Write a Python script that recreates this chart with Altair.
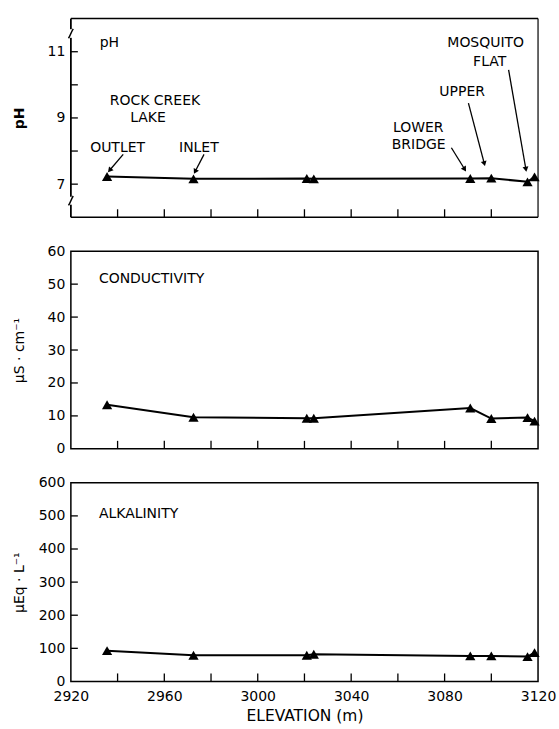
import math
import altair as alt
import pandas as pd

# ---------------- data ----------------
elev = [2935.5, 2972.5, 3021, 3024, 3091, 3100, 3115.5, 3118.5]
ph = [7.23, 7.16, 7.17, 7.16, 7.17, 7.18, 7.07, 7.22]
cond = [13.4, 9.6, 9.3, 9.3, 12.4, 9.2, 9.5, 8.4]
alk = [93, 79, 79, 82, 77, 77, 75, 87]

x_labels = [2920, 2960, 3000, 3040, 3080, 3120]
x_minor = [2940, 2960, 2980, 3000, 3020, 3040, 3060, 3080, 3100]

ph_labels = [7, 9, 11]
ph_ticks = [7, 8, 9, 10, 11]
cond_labels = [0, 10, 20, 30, 40, 50, 60]
cond_ticks = [10, 20, 30, 40, 50]
alk_labels = [0, 100, 200, 300, 400, 500, 600]
alk_ticks = [100, 200, 300, 400, 500]

site_text = ["ROCK CREEK", "LAKE", "OUTLET", "INLET", "LOWER", "BRIDGE",
             "UPPER", "MOSQUITO", "FLAT"]
site_elev = [2956, 2953, 2940, 2974.8, 3068.7, 3068.9, 3087.5, 3097.6, 3099.3]
site_ph = [9.5, 9.0, 8.1, 8.1, 8.71, 8.18, 9.78, 11.25, 10.7]

arrow_e1 = [2942.4, 2977.0, 3082.9, 3090.2, 3107.4]
arrow_p1 = [7.9, 7.9, 8.1, 9.45, 10.45]
arrow_e2 = [2936.6, 2973.2, 3088.6, 3097.0, 3114.8]
arrow_p2 = [7.42, 7.38, 7.45, 7.62, 7.45]

FONT = "DejaVu Sans"
TXT = 14
W = 468
H_PH, H_C, H_A = 199, 198, 199
XDOM = [2920, 3120]


def make_yaxis(values, title, bold=False):
    return alt.Axis(values=values, ticks=False, domain=False, grid=False,
                    labelPadding=6, labelFont=FONT, labelFontSize=14,
                    labelColor="black", labelOverlap=False,
                    title=title, titleFont=FONT,
                    titleFontSize=14, titleColor="black",
                    titleFontWeight="bold" if bold else "normal",
                    titlePadding=6, minExtent=38, maxExtent=38, format="d")


X_AXIS = alt.Axis(values=x_labels, ticks=False, domain=False, grid=False,
                  labelPadding=8, labelFont=FONT, labelFontSize=14,
                  labelColor="black", labelFlush=False, labelOverlap=False,
                  format="d",
                  title="ELEVATION (m)", titleFont=FONT, titleFontSize=15.5,
                  titleFontWeight="normal", titleColor="black",
                  titlePadding=5)


def build_panel(vals, ydom, ylabels, yticks, ytitle, H, show_x, extra,
                bold_title=False):
    xax = X_AXIS if show_x else None
    yax = make_yaxis(ylabels, ytitle, bold_title)
    xs = alt.Scale(domain=XDOM, nice=False, zero=False)
    ys = alt.Scale(domain=ydom, nice=False, zero=False)

    def X(field):
        return alt.X(field, scale=xs, axis=xax, title="ELEVATION (m)")

    def Y(field):
        return alt.Y(field, scale=ys, axis=yax, title=ytitle)

    df = pd.DataFrame({"elev": elev, "v": vals})
    base = alt.Chart(df).encode(x=X("elev:Q"), y=Y("v:Q"))
    line = base.mark_line(color="black", strokeWidth=2)
    pts = base.mark_point(shape="triangle-up", filled=True, color="black",
                          size=105, opacity=1)
    ytk = alt.Chart(pd.DataFrame({"v": yticks})).mark_rule(
        color="black", strokeWidth=1.3).encode(
        y=Y("v:Q"), x=alt.value(0), x2=alt.value(7))
    xtk = alt.Chart(pd.DataFrame({"elev": x_minor})).mark_rule(
        color="black", strokeWidth=1.3).encode(
        x=X("elev:Q"), y=alt.value(H), y2=alt.value(H - 8))
    layers = [line, pts, ytk, xtk] + extra(X, Y)
    return layers


def ph_extra(X, Y):
    one = pd.DataFrame({"elev": [XDOM[0]]})
    frame_top = alt.Chart(one).mark_rule(color="black", strokeWidth=1.5).encode(
        x=alt.value(0), x2=alt.value(W), y=alt.value(0))
    frame_bot = alt.Chart(one).mark_rule(color="black", strokeWidth=1.5).encode(
        x=alt.value(0), x2=alt.value(W), y=alt.value(H_PH))
    frame_right = alt.Chart(one).mark_rule(color="black", strokeWidth=1.2).encode(
        x=alt.value(W), y=alt.value(0), y2=alt.value(H_PH))
    left_seg = pd.DataFrame({"v": [6.0, 6.62, 11.68], "v2": [6.38, 11.42, 12.0]})
    frame_left = alt.Chart(left_seg).mark_rule(color="black", strokeWidth=1.8).encode(
        x=alt.value(0), y=Y("v:Q"), y2="v2:Q")
    brk = alt.Chart(pd.DataFrame({"elev": [2920, 2920], "v": [11.55, 6.5]})).mark_point(
        shape="M -0.45 0.9 C -0.1 0.4, 0.1 -0.4, 0.45 -0.9", filled=False,
        stroke="black", strokeWidth=1.5, size=110, opacity=1).encode(
        x=X("elev:Q"), y=Y("v:Q"))
    ph_lab = alt.Chart(pd.DataFrame({"elev": [2936.5], "v": [11.25], "t": ["pH"]})).mark_text(
        font=FONT, fontSize=TXT, color="black", align="center").encode(
        x=X("elev:Q"), y=Y("v:Q"), text="t:N")
    site_df = pd.DataFrame({"elev": site_elev, "v": site_ph, "t": site_text})
    sites = alt.Chart(site_df).mark_text(font=FONT, fontSize=TXT, color="black",
                                         align="center").encode(
        x=X("elev:Q"), y=Y("v:Q"), text="t:N")
    px_m = W / (XDOM[1] - XDOM[0])
    px_ph = H_PH / 6.0
    angs = []
    for e1, p1, e2, p2 in zip(arrow_e1, arrow_p1, arrow_e2, arrow_p2):
        dx = (e2 - e1) * px_m
        dy = -(p2 - p1) * px_ph
        angs.append(math.degrees(math.atan2(dx, -dy)) % 360)
    arr_df = pd.DataFrame({"elev": arrow_e1, "v": arrow_p1, "elev2": arrow_e2,
                           "v2": arrow_p2, "ang": angs})
    arr_line = alt.Chart(arr_df).mark_rule(color="black", strokeWidth=1.3).encode(
        x=X("elev:Q"), y=Y("v:Q"), x2="elev2:Q", y2="v2:Q")
    arr_head = alt.Chart(arr_df).mark_point(shape="triangle-up", filled=True,
                                            color="black", size=35, opacity=1).encode(
        x=X("elev2:Q"), y=Y("v2:Q"), angle=alt.Angle("ang:Q", scale=None))
    return [frame_top, frame_bot, frame_right, frame_left, brk, ph_lab, sites,
            arr_line, arr_head]


def label_extra(text, e, v):
    def f(X, Y):
        return [alt.Chart(pd.DataFrame({"elev": [e], "v": [v], "t": [text]})).mark_text(
            font=FONT, fontSize=TXT, color="black", align="left").encode(
            x=X("elev:Q"), y=Y("v:Q"), text="t:N")]
    return f


ph_chart = alt.layer(*build_panel(ph, [6, 12], ph_labels, ph_ticks, "pH", H_PH,
                                  False, ph_extra, True)).properties(
    width=W, height=H_PH, view=alt.ViewBackground(strokeOpacity=0))

c_chart = alt.layer(*build_panel(cond, [0, 60], cond_labels, cond_ticks,
                                 "μS · cm⁻¹", H_C, False,
                                 label_extra("CONDUCTIVITY", 2932, 51.7))).properties(
    width=W, height=H_C)

a_chart = alt.layer(*build_panel(alk, [0, 600], alk_labels, alk_ticks,
                                 "μEq · L⁻¹", H_A, True,
                                 label_extra("ALKALINITY", 2932, 507))).properties(
    width=W, height=H_A)

chart = alt.vconcat(ph_chart, c_chart, a_chart, spacing=34, bounds="flush").properties(
    padding={"left": 12, "top": 17, "right": 2, "bottom": 2},
    background="white",
).configure_view(stroke="black", strokeWidth=1.5)

chart.save("out.html", embed_options={"renderer": "svg", "actions": False})
